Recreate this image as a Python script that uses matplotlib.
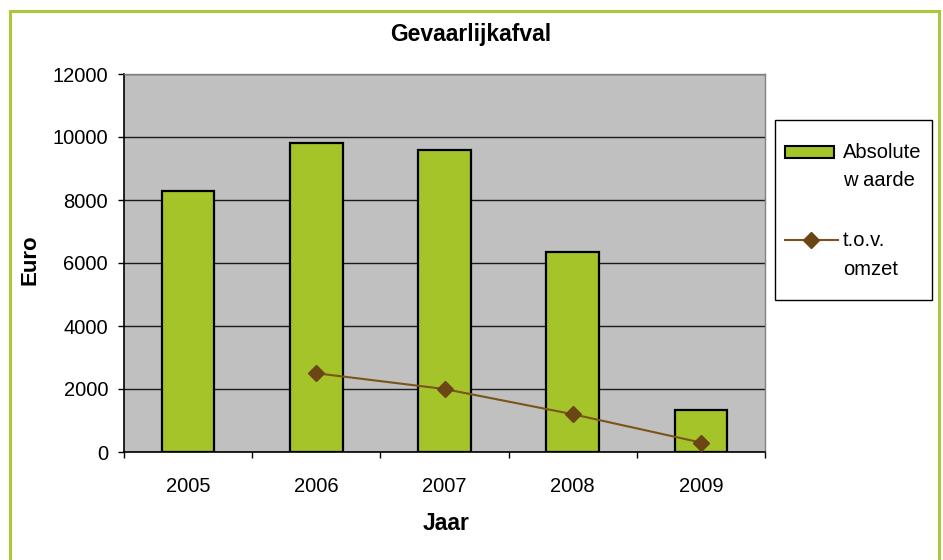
import matplotlib
matplotlib.use("Agg")
import matplotlib.pyplot as plt
import numpy as np
from matplotlib.patches import Rectangle
from matplotlib.lines import Line2D

years = ["2005", "2006", "2007", "2008", "2009"]
absolute = [8300, 9800, 9600, 6350, 1330]
tov_omzet = [np.nan, 2500, 2000, 1200, 300]
yticks = [0, 2000, 4000, 6000, 8000, 10000, 12000]

plt.rcParams['font.family'] = ['Liberation Sans', 'DejaVu Sans']

W, H = 943, 560
fig = plt.figure(figsize=(W/100, H/100), dpi=100)
fig.patch.set_facecolor('white')

def fx(px):
    return px / W

def fy(py):
    return 1 - py / H

BAR_COLOR = '#A5C42A'
LINE_COLOR = '#7A5518'
MARK_COLOR = '#6B4513'

# outer green border
fig.patches.append(Rectangle((fx(10), -0.05), fx(939) - fx(10), fy(11) + 0.05,
                             transform=fig.transFigure, fill=False,
                             edgecolor='#A9C83A', linewidth=2.2))

l, r, t, b = 124, 765, 74, 452
ax = fig.add_axes([fx(l), fy(b), fx(r) - fx(l), fy(t) - fy(b)])
ax.set_facecolor('#C0C0C0')

x = np.arange(len(years))
ax.set_axisbelow(True)
ax.yaxis.grid(True, color='#1a1a1a', linewidth=1.0)
bars = ax.bar(x, absolute, width=0.41, color=BAR_COLOR, edgecolor='black', linewidth=1.6,
              label='Absolute\nw aarde', zorder=2)
line, = ax.plot(x, tov_omzet, color=LINE_COLOR, linewidth=1.5, marker='D', markersize=8,
                markerfacecolor=MARK_COLOR, markeredgecolor=MARK_COLOR,
                label='t.o.v.\nomzet', zorder=3)

ax.set_xlim(-0.5, 4.5)
ax.set_ylim(0, 12000)
ax.set_yticks(yticks)
ax.set_yticklabels([str(v) for v in yticks], fontsize=14.5)
ax.set_xticks(x)
ax.set_xticklabels(years, fontsize=14.5)
ax.tick_params(axis='x', length=0, pad=25)
for lab in ax.get_xticklabels():
    lab.set_va('center')
ax.set_xticks(np.arange(-0.5, 5, 1), minor=True)
ax.tick_params(axis='x', which='minor', length=4, width=1, color='black', direction='out')
ax.tick_params(axis='y', length=4.5, width=1, direction='out', pad=7)

for s in ['left', 'bottom']:
    ax.spines[s].set_color('black')
    ax.spines[s].set_linewidth(1.2)
for s in ['top', 'right']:
    ax.spines[s].set_color('#808080')
    ax.spines[s].set_linewidth(1.0)

ax.set_ylabel('Euro', fontsize=16, fontweight='bold', va='center')
ax.yaxis.set_label_coords((30 - l) / (r - l), (b - 260) / (b - t))
ax.set_xlabel('Jaar', fontsize=16.5, fontweight='bold', va='center')
ax.xaxis.set_label_coords((446 - l) / (r - l), (b - 523) / (b - t))
fig.text(fx(471), fy(35), 'Gevaarlijkafval', ha='center', va='center',
         fontsize=16.5, fontweight='bold')

# legend box drawn in figure pixel coordinates
fig.patches.append(Rectangle((fx(775), fy(300)), fx(932) - fx(775), fy(120) - fy(300),
                             transform=fig.transFigure, facecolor='white',
                             edgecolor='black', linewidth=1.0, zorder=5))
fig.patches.append(Rectangle((fx(785), fy(158)), fx(834) - fx(785), fy(146) - fy(158),
                             transform=fig.transFigure, facecolor=BAR_COLOR,
                             edgecolor='black', linewidth=1.5, zorder=6))
fig.lines.append(Line2D([fx(785), fx(838)], [fy(240), fy(240)], transform=fig.transFigure,
                        color=LINE_COLOR, linewidth=1.5, zorder=6))
fig.lines.append(Line2D([fx(811)], [fy(240)], transform=fig.transFigure, marker='D',
                        markersize=8, color=MARK_COLOR, zorder=7))
for txt, yy in [('Absolute', 153), ('w aarde', 181), ('t.o.v.', 240), ('omzet', 269)]:
    fig.text(fx(843), fy(yy), txt, ha='left', va='center', fontsize=14.5, zorder=7)

fig.savefig('out.png', dpi=100, facecolor='white')
